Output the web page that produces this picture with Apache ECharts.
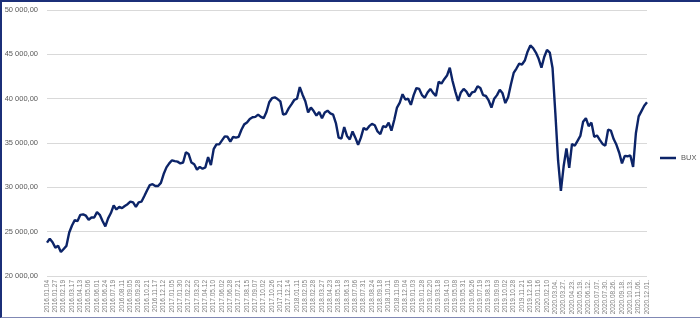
<!DOCTYPE html>
<html>
<head>
<meta charset="utf-8">
<title>BUX</title>
<script src="https://cdn.jsdelivr.net/npm/echarts@6.0.0/dist/echarts.min.js"></script>
<style>
  html, body { margin: 0; padding: 0; background: #fff; }
  #chart { position: absolute; left: 0; top: 0; width: 700px; height: 319px; }
  #frame {
    position: absolute; left: 0; top: 0; width: 700px; height: 318px;
    box-sizing: border-box; pointer-events: none;
    border-top: 2px solid #1b2f78; border-left: 2px solid #1b2f78;
    border-bottom: 1px solid #8088b4;
  }
</style>
</head>
<body>
<div id="chart"></div>
<div id="frame"></div>
<script>
// tick labels of the x axis (one every ~17 trading days)
var xLabels = [
  "2016.01.04", "2016.01.27", "2016.02.19", "2016.03.17", "2016.04.13", "2016.05.06", "2016.06.01", "2016.06.24",
  "2016.07.19", "2016.08.11", "2016.09.05", "2016.09.28", "2016.10.21", "2016.11.17", "2016.12.12",
  "2017.01.05", "2017.01.30", "2017.02.22", "2017.03.20", "2017.04.12", "2017.05.10", "2017.06.02", "2017.06.28",
  "2017.07.21", "2017.08.15", "2017.09.07", "2017.10.02", "2017.10.26", "2017.11.21", "2017.12.14",
  "2018.01.11", "2018.02.05", "2018.02.28", "2018.03.27", "2018.04.23", "2018.05.18", "2018.06.13",
  "2018.07.06", "2018.07.31", "2018.08.24", "2018.09.18", "2018.10.11", "2018.11.09", "2018.12.04",
  "2019.01.03", "2019.01.28", "2019.02.20", "2019.03.18", "2019.04.10", "2019.05.08", "2019.05.31", "2019.06.26",
  "2019.07.19", "2019.08.13", "2019.09.09", "2019.10.02", "2019.10.28", "2019.11.21", "2019.12.16",
  "2020.01.16", "2020.02.10", "2020.03.04.", "2020.03.27.", "2020.04.23.", "2020.05.19.", "2020.06.12.",
  "2020.07.07.", "2020.07.30.", "2020.08.26.", "2020.09.18.", "2020.10.13.", "2020.11.06.", "2020.12.01."
];
// values, 3 readings per label step
var stepsPerLabel = 3;
var bux2016 = [
  23760, 24200, 23800, 23200, 23400, 22700, 23050, 23400, 24900, 25700,
  26300, 26200, 26900, 26950, 26800, 26350, 26600, 26600, 27200, 26900,
  26200, 25600, 26500, 27100, 27950, 27500, 27800, 27650, 27900, 28100,
  28400, 28300, 27800, 28300, 28380, 29000, 29650, 30250, 30350, 30150,
  30150, 30500, 31500, 32250, 32700
];
var bux2017 = [
  33050, 32950, 32900, 32700, 32800, 33950, 33750, 32800, 32600, 32000,
  32300, 32100, 32250, 33400, 32500, 34300, 34850, 34850, 35300, 35750,
  35700, 35150, 35700, 35600, 35700, 36500, 37100, 37300, 37700, 37900,
  37950, 38200, 37950, 37800, 38500, 39600, 40050, 40150, 39950, 39700,
  38200, 38300, 38900, 39350, 39850
];
var bux2018 = [
  40000, 41300, 40450, 39700, 38450, 39000, 38600, 38100, 38500, 37800,
  38450, 38650, 38350, 38200, 37250, 35600, 35500, 36800, 35800, 35400,
  36300, 35600, 34800, 35600, 36700, 36500, 36900, 37150, 37000, 36300,
  36000, 36900, 36800, 37300, 36400, 37600, 39000, 39550, 40500, 39900,
  40000, 39300
];
var bux2019 = [
  40400, 41200, 41100, 40400, 40100, 40700, 41100, 40650, 40300, 41900,
  41700, 42200, 42600, 43500, 42000, 40800, 39750, 40700, 41100, 40800,
  40250, 40700, 40800, 41400, 41200, 40400, 40300, 39800, 39000, 40000,
  40400, 41000, 40600, 39500, 40150, 41600, 42900, 43400, 43950, 43850,
  44300, 45300, 46000, 45700, 45200
];
var bux2020 = [
  44500, 43500, 44700, 45500, 45200, 43450, 38400, 33000, 29600, 32400,
  34400, 32200, 34900, 34700, 35250, 35800, 37400, 37800, 36900, 37300,
  35700, 35850, 35350, 34900, 34700, 36500, 36400, 35450, 34800, 33900,
  32700, 33550, 33500, 33600, 32300, 36100, 38000, 38600, 39200, 39600
];

var buxValues = bux2016.concat(bux2017, bux2018, bux2019, bux2020);
var categories = buxValues.map(function (v, i) {
  return i % stepsPerLabel === 0 ? xLabels[i / stepsPerLabel] : "";
});

function fmtNum(v) {
  return String(v).replace(/\B(?=(\d{3})+(?!\d))/g, " ") + ",00";
}

var myChart = echarts.init(document.getElementById("chart"));
var option = {
  animation: false,
  textStyle: { fontFamily: "Liberation Sans, Arial, sans-serif" },
  grid: { left: 47, right: 53, top: 10, bottom: 43, outerBoundsMode: "none" },
  legend: {
    data: ["BUX"],
    left: 660,
    top: 154,
    padding: 0,
    icon: "rect",
    itemWidth: 16,
    itemHeight: 2.5,
    itemStyle: { color: "#0c2468" },
    textStyle: { color: "#595959", fontSize: 7.5 }
  },
  xAxis: {
    type: "category",
    boundaryGap: false,
    data: categories,
    axisLine: { show: false },
    axisTick: { show: false },
    axisLabel: {
      rotate: 90,
      margin: 4,
      fontSize: 6.5,
      color: "#7f7f7f",
      interval: function (idx) { return idx % stepsPerLabel === 0; }
    }
  },
  yAxis: {
    type: "value",
    min: 20000,
    max: 50000,
    interval: 5000,
    axisLine: { show: false },
    axisTick: { show: false },
    splitLine: { lineStyle: { color: "#d9d9d9", width: 1 } },
    axisLabel: {
      margin: 9,
      fontSize: 7.5,
      color: "#595959",
      formatter: fmtNum
    }
  },
  series: [
    {
      name: "BUX",
      type: "line",
      data: buxValues,
      symbol: "none",
      lineStyle: { color: "#0c2468", width: 2.4 },
      itemStyle: { color: "#0c2468" }
    }
  ]
};
myChart.setOption(option);
</script>
</body>
</html>
